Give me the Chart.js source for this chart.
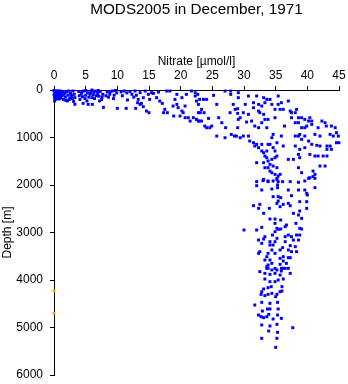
<!DOCTYPE html>
<html>
<head>
<meta charset="utf-8">
<script src="https://cdn.jsdelivr.net/npm/chart.js@4/dist/chart.umd.min.js"></script>
<style>
  html, body { margin: 0; padding: 0; background: #fff; }
  canvas { display: block; }
</style>
</head>
<body>
<canvas id="c" width="348" height="384"></canvas>
<script>
// Nitrate [µmol/l] vs depth [m] samples, grouped by depth range: [nitrate, depth]
const surfaceLayer = [
  [0.0,10],[0.1,40],[0.2,80],[0.3,120],[0.1,160],[0.4,20],[0.5,60],[0.6,100],[0.7,140],[0.8,30],
  [0.9,70],[1.0,110],[1.1,170],[0.2,200],[0.5,180],[1.2,50],[0.0,100],[0.3,60],[0.6,20],[0.9,150],
  [0.2,130],[0.4,90],[0.8,190],[1.0,20],[0.1,230],[0.7,60],
  [1.4,30],[1.6,90],[1.8,150],[2.0,40],[2.2,110],[2.4,200],[2.6,60],[2.8,130],[3.0,20],[3.2,90],
  [1.5,200],[2.5,170],[3.3,160],[2.1,230],[3.3,300],[4.6,280],[5.4,302],[6.05,302],
  [1.3,120],[1.7,60],[1.9,220],[2.3,20],[2.7,100],[2.9,180],[3.1,240],
  [3.9,30],[4.3,80],[4.7,20],[5.0,110],[5.3,60],[4.5,140],[4.0,120],[5.5,150],
  [4.1,200],[4.4,40],[4.9,180],[5.2,230],[5.7,90],[6.0,160],[6.3,50],[6.7,120],[7.2,230],[7.6,150],
  [5.0,10],[6.0,0],
  [5.8,40],[6.2,100],[6.6,20],[6.9,70],[7.1,130],[7.3,30],[7.5,200],[7.7,90],[6.4,180],[7.0,10],
  [7.8,365],[8.4,40],[8.8,90],[9.2,20],[9.5,110],[8.6,150],[9.9,60],[10.0,386],[11.4,386],
  [8.2,120],[8.9,30],[9.4,180],[9.7,10],[10.6,40],[10.8,120],[12.6,150],[13.0,110],
  [11.1,20],[11.5,60],[12.0,30],[12.3,90],[11.6,210],
  [12.8,21],[13.2,267],[13.6,302],[13.8,281],[12.9,386],[14.1,351],[14.6,442],[15.0,477],[13.6,56],
  [14.4,21],[14.9,91],[14.1,161],[13.3,197],[15.1,197],
  [15.7,70],[16.7,232],[17.1,281],[17.5,407],[17.9,477],[17.3,477],[16.2,161],[17.8,21],[15.4,56],[16.5,42],
  [18.3,21],[19.1,197],[19.4,302],[19.6,372],[20.2,442],[20.4,477],[20.7,582],[21.2,582],[21.5,653],
  [22.0,582],[22.5,618],[22.8,653],[18.9,547],[19.9,547],[19.4,91],[20.2,161],[20.9,91],[21.7,21],
  [22.3,126],[22.5,232],[22.8,477],[18.8,337],[20.7,337]
];

const thermocline = [
  [22.3,56],[22.7,91],[23.0,197],[23.6,197],[24.1,197],[22.8,302],[23.3,407],[23.1,477],[23.7,477],
  [22.5,618],[22.9,653],[23.3,653],[24.4,597],[23.8,758],[24.6,793],[24.9,758],[24.1,793],
  [25.2,112],[25.7,302],[26.0,583],[26.5,688],[27.0,21],[27.9,21],[27.9,91],[29.1,56],[29.1,161],
  [28.3,302],[28.6,407],[29.0,393],[29.0,491],[27.8,477],[29.4,583],[29.1,618],[30.4,674],[29.0,793],
  [27.1,793],[27.0,1004],[25.7,969],[28.0,934],[28.5,969],[28.8,969],[29.4,1004],[29.9,969],[30.7,969],
  [30.9,1074],[31.5,1109],[31.7,1179],[32.0,1144],[32.3,1214],[32.8,1284],[33.1,1320],[33.3,1390],
  [33.6,1425],[33.8,1495],[34.1,1565],[34.4,1460],[34.9,1425],[34.6,1600],[35.2,1390],[33.8,1635],
  [34.4,1741],[35.2,1635],[32.0,1530],[33.1,1530],[33.3,1635],[34.1,1706],[34.9,1776],[35.4,1811],
  [35.7,1776],[35.2,1881],[33.1,1881],[33.8,1916],
  [30.7,126],[31.5,267],[32.0,126],[32.3,302],[32.8,337],[33.1,161],[33.3,267],[33.6,197],[34.1,197],
  [34.4,302],[34.9,407],[35.4,302],[35.7,407],[35.9,267],[36.2,407],[37.0,232],[31.5,372],[32.3,442],
  [32.5,477],[33.1,512],[33.3,618],[33.8,618],[32.8,688],[33.6,793],[32.3,793],[31.7,758],[31.2,653],
  [30.7,512],[29.9,477],[30.2,302],
  [34.4,1004],[34.6,934],[34.1,1144],[35.2,1109],[34.6,1214],[34.9,1284],[33.8,1144],[32.8,1144],
  [33.6,1284],[36.2,1179],[35.9,969],[36.4,758],[34.9,583],[35.4,126],[37.3,442],[37.5,477],[38.1,477],
  [38.3,407],[37.5,583],[38.6,583],[39.1,583],[39.6,618],[40.4,583],[40.7,653],[40.2,653],[38.6,688],
  [38.1,688],[39.1,793],[39.6,793],[39.9,758],[40.7,723],[41.7,793],[42.3,653],[42.8,688],[43.0,758],
  [43.8,758],[44.4,793],[44.6,899],[44.9,969],[44.1,969],[43.6,934],[42.0,969],[41.2,934],[38.1,969],
  [38.6,969],[38.8,934],[39.6,969],[39.1,1039],[40.2,1074],[40.7,1144],[41.5,1165],[42.0,1179],
  [43.1,1179],[43.6,1179],[44.6,1109],[45.0,1109],[43.8,1249],[43.1,1249],[42.5,1390],[41.7,1390],
  [41.2,1390],[40.4,1355],[39.6,1214],[38.8,1249],[38.6,1355],[38.1,1179],[38.8,1425],[37.0,1460],
  [37.8,1460],[38.6,1635],[39.1,1741],[40.4,1846],[41.2,1776],[40.9,1706],[42.0,1600],[42.8,1600],[43.1,1390]
];

const deepWater = [
  [32.0,1929],[32.0,2014],[33.0,1908],[33.8,1929],[34.6,1915],[35.2,1859],[35.4,1929],[36.1,1929],
  [37.3,1929],[38.6,1943],[39.6,1915],[40.2,1859],[40.9,1824],[41.2,1859],[41.2,2056],[39.6,2105],
  [39.9,2175],[40.0,2210],[38.6,2105],[37.0,2105],[37.5,2224],[35.3,1999],[35.3,2056],[34.4,2084],
  [32.8,2105],[34.6,2245],[35.4,2245],[35.8,2266],[35.4,2337],[35.2,2386],[35.7,2456],[36.2,2407],
  [37.0,2386],[37.3,2435],[38.8,2351],[39.9,2351],[38.8,2547],[39.9,2491],[38.6,2631],[37.8,2596],
  [39.1,2702],[38.2,2807],[38.8,2912],[39.1,2926],[36.7,2842],[36.5,2877],[35.8,2737],[34.9,2716],
  [34.1,2716],[34.0,2491],[32.3,2491],[31.5,2435],[32.5,2407],[33.1,2596],[30.0,2947],[32.0,2947],
  [32.8,2891],[33.3,3088],[34.9,2807],[35.2,2912],[35.4,2933],[35.8,2926],[34.9,2982],[34.5,3053],
  [35.2,3123],[34.9,3193],[34.6,3263],[34.1,3263],[33.1,3137],[32.3,3158],[32.8,3228],[34.1,3193],
  [36.5,3088],[37.0,3053],[37.5,3088],[38.3,3053],[38.6,3158],[38.8,3053],[37.8,3158],[37.3,3277],
  [36.5,3193],[38.1,3298],[36.1,3319],[35.7,3368],[37.0,3368],[37.5,3403],[38.3,3403],[36.2,3509],
  [37.0,3530],[37.3,3530],[35.7,3544],[36.2,3600],[36.7,3649],[36.5,3755],[35.9,3755],[34.9,3438],
  [34.4,3368],[33.8,3438],[33.6,3509],[32.5,3403],[32.3,3438],[33.3,3579],[34.1,3579],[34.4,3649],
  [33.8,3684],[33.6,3755],[34.9,3755],[35.7,3670]
];

const abyssal = [
  [33.6,3719],[33.8,3754],[34.4,3789],[35.2,3789],[36.2,3754],[37.0,3754],[32.5,3824],[33.3,3860],
  [34.1,3881],[34.9,3860],[35.7,3895],[37.3,3860],[35.9,3810],[34.9,4035],[34.1,4035],[33.3,3979],
  [35.4,4000],[36.2,3979],[34.3,4140],[33.8,4161],[36.0,4140],[33.1,4189],[32.8,4246],[32.7,4302],
  [33.3,4330],[33.8,4302],[34.4,4281],[35.2,4302],[35.7,4246],[36.0,4232],[35.0,4351],[32.8,4470],
  [34.1,4491],[35.3,4470],[31.7,4526],[32.9,4653],[33.7,4610],[34.1,4610],[35.4,4610],[33.9,4723],
  [32.3,4737],[32.7,4772],[33.1,4793],[33.6,4772],[34.6,4821],[35.3,4737],[35.9,4807],[32.8,4947],
  [34.1,4968],[35.2,4933],[33.9,5074],[35.3,5102],[37.7,5004],[32.8,5228],[35.2,5228],[35.0,5418]
];

// Flagged samples (shown in orange)
const flagged = [[0,4230],[0,4700]];

const xTicks = [0, 5, 10, 15, 20, 25, 30, 35, 40, 45];
const yTicks = [0, 1000, 2000, 3000, 4000, 5000, 6000];

const FONT = "'Liberation Sans', Arial, Helvetica, sans-serif";
const toPoints = arr => arr.map(([x, y]) => ({ x, y }));

new Chart(document.getElementById('c'), {
  type: 'scatter',
  data: {
    datasets: [
      {
        data: toPoints([].concat(surfaceLayer, thermocline, deepWater, abyssal)),
        backgroundColor: '#0000ff',
        borderWidth: 0,
        pointStyle: 'rect',
        pointRadius: 2.1,
        clip: false
      },
      {
        data: toPoints(flagged),
        backgroundColor: '#ffa500',
        borderWidth: 0,
        pointStyle: 'rect',
        pointRadius: 2,
        clip: false
      }
    ]
  },
  options: {
    responsive: false,
    animation: false,
    events: [],
    layout: { padding: { left: 0, right: 9, top: 0, bottom: 9 } },
    plugins: {
      legend: { display: false },
      tooltip: { enabled: false },
      title: {
        display: true,
        fullSize: false,
        text: 'MODS2005 in December, 1971',
        color: '#000',
        font: { family: FONT, size: 15.3, weight: 'normal', lineHeight: 1.1 },
        padding: { top: 1, bottom: 0 }
      }
    },
    scales: {
      x: {
        type: 'linear',
        position: 'top',
        min: 0,
        max: 45,
        afterBuildTicks: s => { s.ticks = xTicks.map(v => ({ value: v })); },
        afterFit: s => { s.height = 72.2; s.paddingLeft = 0; s.paddingRight = 0; },
        ticks: { color: '#000', padding: 3, font: { family: FONT, size: 12 }, callback: v => String(v) },
        grid: { drawOnChartArea: false, drawTicks: true, tickLength: 4, tickColor: '#000', color: '#000' },
        border: { display: true, color: '#000', width: 1 },
        title: {
          display: true,
          text: 'Nitrate [µmol/l]',
          color: '#000',
          font: { family: FONT, size: 12 },
          padding: { top: 37, bottom: 0 }
        }
      },
      y: {
        type: 'linear',
        reverse: true,
        min: 0,
        max: 6000,
        afterBuildTicks: s => { s.ticks = yTicks.map(v => ({ value: v })); },
        afterFit: s => { s.width = 54; s.paddingTop = 0; s.paddingBottom = 0; },
        ticks: { color: '#000', padding: 7, font: { family: FONT, size: 12 }, callback: v => String(v) },
        grid: { drawOnChartArea: false, drawTicks: true, tickLength: 4, tickColor: '#000', color: '#000' },
        border: { display: true, color: '#000', width: 1 },
        title: {
          display: true,
          text: 'Depth [m]',
          color: '#000',
          font: { family: FONT, size: 12 },
          padding: { top: 0, bottom: 0 }
        }
      }
    }
  }
});
</script>
</body>
</html>
